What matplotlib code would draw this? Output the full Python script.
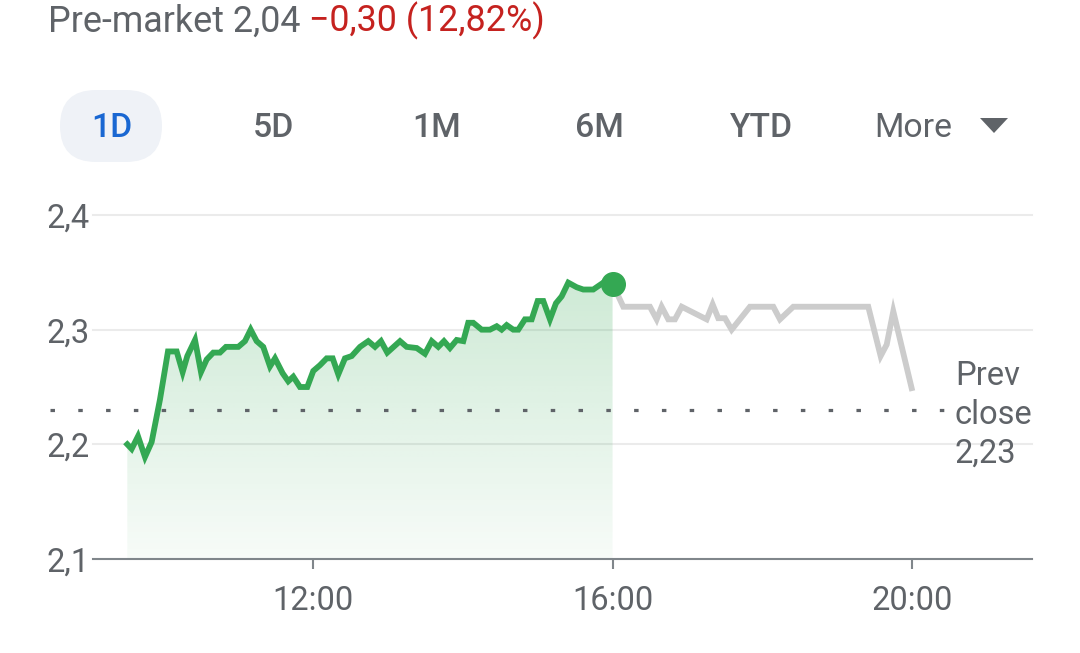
import numpy as np
import matplotlib
matplotlib.use("Agg")
import matplotlib.pyplot as plt
from matplotlib.patches import FancyBboxPatch, Polygon
from matplotlib.ticker import FuncFormatter
from matplotlib.colors import to_rgb
import matplotlib.transforms as mtransforms

# ---------------- data ----------------
session_hours = [9.521, 9.579, 9.664, 9.757, 9.846, 9.957, 10.064, 10.180, 10.260, 10.322,
                 10.425, 10.505, 10.581, 10.669, 10.758, 10.838, 11.003, 11.092, 11.168, 11.248,
                 11.336, 11.426, 11.493, 11.595, 11.670, 11.737, 11.826, 11.924, 12.004, 12.093,
                 12.183, 12.263, 12.338, 12.427, 12.517, 12.628, 12.738, 12.828, 12.908, 12.992,
                 13.162, 13.251, 13.385, 13.495, 13.585, 13.673, 13.749, 13.829, 13.919, 14.007,
                 14.073, 14.140, 14.252, 14.363, 14.453, 14.519, 14.586, 14.674, 14.741, 14.830,
                 14.920, 15.000, 15.075, 15.164, 15.244, 15.320, 15.409, 15.521, 15.609, 15.742,
                 15.876, 16.000]
session_prices = [2.200, 2.196, 2.207, 2.189, 2.202, 2.239, 2.281, 2.281, 2.263, 2.277,
                  2.291, 2.263, 2.274, 2.280, 2.280, 2.285, 2.285, 2.290, 2.300, 2.290,
                  2.285, 2.268, 2.275, 2.262, 2.255, 2.259, 2.250, 2.250, 2.264, 2.269,
                  2.275, 2.275, 2.261, 2.275, 2.277, 2.285, 2.290, 2.285, 2.290, 2.280,
                  2.290, 2.285, 2.284, 2.279, 2.290, 2.285, 2.290, 2.284, 2.291, 2.290,
                  2.306, 2.306, 2.300, 2.300, 2.303, 2.300, 2.304, 2.300, 2.300, 2.309,
                  2.309, 2.325, 2.325, 2.309, 2.323, 2.329, 2.341, 2.337, 2.335, 2.335,
                  2.341, 2.340]
after_hours = [16.000, 16.143, 16.499, 16.589, 16.655, 16.744, 16.833, 16.923, 17.256, 17.336,
               17.411, 17.501, 17.590, 17.834, 18.146, 18.235, 18.413, 19.414, 19.579, 19.660,
               19.748, 19.993]
after_prices = [2.340, 2.320, 2.320, 2.309, 2.320, 2.309, 2.309, 2.320, 2.309, 2.322,
                2.310, 2.310, 2.300, 2.320, 2.320, 2.309, 2.320, 2.320, 2.277, 2.287,
                2.316, 2.249]
prev_close = 2.23
prev_close_label = "Prev\nclose\n2,23"
y_ticks = [2.1, 2.2, 2.3, 2.4]
y_tick_labels = ["2,1", "2,2", "2,3", "2,4"]
x_ticks = [12, 16, 20]
x_tick_labels = ["12:00", "16:00", "20:00"]
range_buttons = ["1D", "5D", "1M", "6M", "YTD", "More"]
header_price = "Pre-market 2,04"
header_change = "\u22120,30 (12,82%)"

# ---------------- style ----------------
plt.rcParams['font.family'] = ['Roboto', 'DejaVu Sans']
GREEN = '#34a853'
GREY_LINE = '#cccccc'
TEXT = '#5f6368'
RED = '#c5221f'
BLUE = '#1967d2'
FS = 23.5
FS_HEAD = 25.8
FS_BTN = 24.3

W, H = 1080, 653
fig = plt.figure(figsize=(W / 100, H / 100), dpi=100)
fig.patch.set_facecolor('white')

def fx(px):
    return px / W

def fy(py):
    return 1 - py / H

ax_left, ax_right, ax_top, ax_bottom = 93, 1032, 215, 559
ax = fig.add_axes([fx(ax_left), fy(ax_bottom), fx(ax_right) - fx(ax_left), fy(ax_top) - fy(ax_bottom)])
ax.set_facecolor('none')
xlim = (9.063, 21.60)
ylim = (2.1, 2.4)

# gradient fill under session line
xs = np.array(session_hours)
ys = np.array(session_prices)
poly = ax.fill_between(xs, ys, ylim[0], color='none', linewidth=0)
g = np.linspace(0, 1, 256)
rgba = np.zeros((256, 1, 4))
rgba[..., :3] = to_rgb(GREEN)
rgba[:, 0, 3] = 0.04 + 0.20 * g
im = ax.imshow(rgba, extent=[xs.min(), xs.max(), ylim[0], ys.max()], origin='lower',
               aspect='auto', zorder=1, interpolation='bilinear')
im.set_clip_path(poly.get_paths()[0], transform=ax.transData)

# prev close dotted line
blend = mtransforms.blended_transform_factory(ax.transAxes, ax.transData)
x0 = (50 - ax_left) / (ax_right - ax_left)
x1 = (945 - ax_left) / (ax_right - ax_left)
ax.plot([x0, x1], [prev_close, prev_close], transform=blend, clip_on=False,
        color='#5f6368', lw=2.3, dashes=(1.4, 7.3), dash_capstyle='butt', zorder=2)
ax.text((955 - ax_left) / (ax_right - ax_left), prev_close - 0.004, prev_close_label, transform=blend,
        ha='left', va='center', fontsize=FS, color=TEXT, linespacing=1.27)

# lines
ax.plot(after_hours, after_prices, color=GREY_LINE, lw=4.2, solid_joinstyle='miter', zorder=3)
ax.plot(session_hours, session_prices, color=GREEN, lw=4.2, solid_joinstyle='miter', zorder=4)
ax.plot(session_hours[-1:], session_prices[-1:], 'o', color=GREEN, ms=17, zorder=5, clip_on=False)

ax.set_xlim(*xlim)
ax.set_ylim(*ylim)

# axes styling
for s in ['top', 'left', 'right']:
    ax.spines[s].set_visible(False)
ax.spines['bottom'].set_color('#80868b')
ax.spines['bottom'].set_linewidth(1.5)
ax.set_yticks(y_ticks)
ax.set_yticklabels(y_tick_labels)
ax.set_xticks(x_ticks)
ax.xaxis.set_major_formatter(FuncFormatter(lambda v, p: x_tick_labels[x_ticks.index(int(round(v)))] if int(round(v)) in x_ticks else ''))
ax.tick_params(axis='y', length=0, pad=2.5, labelsize=FS, labelcolor=TEXT)
ax.tick_params(axis='x', length=7.5, width=1.5, color='#80868b', pad=11, labelsize=FS, labelcolor=TEXT)
ax.grid(axis='y', color='#ebebeb', lw=1.5)
ax.set_axisbelow(True)
for gl in ax.get_ygridlines():
    gl.set_clip_on(False)
ax.get_ygridlines()[0].set_visible(False)

# header
t1 = fig.text(fx(48), fy(32), header_price, ha='left', va='baseline', fontsize=FS_HEAD, color=TEXT)
ax.annotate(" " + header_change, xy=(1, 0), xycoords=t1, ha='left', va='bottom',
            fontsize=FS_HEAD, color=RED, annotation_clip=False)

# range buttons
pill = FancyBboxPatch((0.60, (H - 162) / 100), 1.02, 0.72,
                      boxstyle="round,pad=0,rounding_size=0.36",
                      transform=fig.dpi_scale_trans, facecolor='#eff2f7', edgecolor='none')
fig.add_artist(pill)
btn_x = [112, 273, 437, 599, 761, 913]
for i, (lab, bx) in enumerate(zip(range_buttons, btn_x)):
    fig.text(fx(bx), fy(137), lab, ha='center', va='baseline', fontsize=FS_BTN,
             color=BLUE if i == 0 else TEXT, fontweight='normal' if lab == 'More' else 'medium')
tri = Polygon([(980 / 100, (H - 118) / 100), (1008 / 100, (H - 118) / 100), (994 / 100, (H - 133) / 100)],
              closed=True, transform=fig.dpi_scale_trans, facecolor='#5f6368', edgecolor='none')
fig.add_artist(tri)

fig.savefig('out.png', dpi=100, facecolor='white')
